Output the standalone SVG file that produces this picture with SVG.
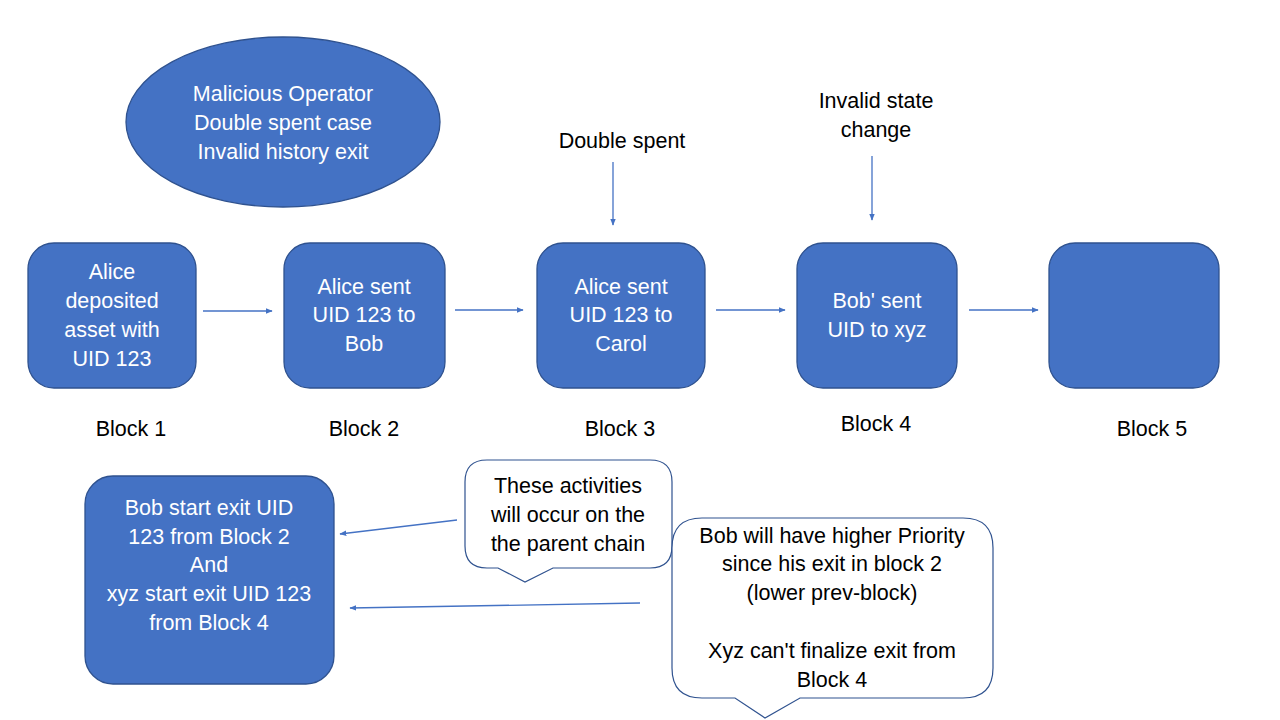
<svg xmlns="http://www.w3.org/2000/svg" width="1280" height="720" viewBox="0 0 1280 720">
<defs>
<style>
.node{fill:#4472C4;stroke:#2F528F;stroke-width:1.3}
.wt{fill:#FFFFFF;font-family:"Liberation Sans",Arial,sans-serif;font-size:21.5px;text-anchor:middle}
.bt{fill:#000000;font-family:"Liberation Sans",Arial,sans-serif;font-size:21.5px;text-anchor:middle}
.call{fill:#FFFFFF;stroke:#2F528F;stroke-width:1.2}
.conn{stroke:#4472C4;stroke-width:1.3;fill:none;marker-end:url(#ah)}
</style>
<marker id="ah" viewBox="0 0 10 10" refX="9" refY="5" markerWidth="7" markerHeight="7" markerUnits="userSpaceOnUse" orient="auto">
<path d="M0,1 L10,5 L0,9 z" fill="#4472C4"/>
</marker>
</defs>
<rect width="1280" height="720" fill="#FFFFFF"/>

<g id="title">
<ellipse class="node" cx="283" cy="122" rx="157" ry="85"/>
<text class="wt" x="283" y="101">Malicious Operator</text>
<text class="wt" x="283" y="130">Double spent case</text>
<text class="wt" x="283" y="159">Invalid history exit</text>
</g>

<g id="block1">
<rect class="node" x="28" y="243" width="168" height="145" rx="26"/>
<text class="wt" x="112" y="279">Alice</text>
<text class="wt" x="112" y="308">deposited</text>
<text class="wt" x="112" y="337">asset with</text>
<text class="wt" x="112" y="366">UID 123</text>
<text class="bt" x="131" y="436">Block 1</text>
</g>

<g id="block2">
<rect class="node" x="284" y="243" width="161" height="145" rx="26"/>
<text class="wt" x="364" y="294">Alice sent</text>
<text class="wt" x="364" y="322">UID 123 to</text>
<text class="wt" x="364" y="351">Bob</text>
<text class="bt" x="364" y="436">Block 2</text>
</g>

<g id="block3">
<rect class="node" x="537" y="243" width="168" height="145" rx="26"/>
<text class="wt" x="621" y="294">Alice sent</text>
<text class="wt" x="621" y="322">UID 123 to</text>
<text class="wt" x="621" y="351">Carol</text>
<text class="bt" x="620" y="436">Block 3</text>
</g>

<g id="block4">
<rect class="node" x="797" y="243" width="160" height="145" rx="26"/>
<text class="wt" x="877" y="308">Bob' sent</text>
<text class="wt" x="877" y="337">UID to xyz</text>
<text class="bt" x="876" y="431">Block 4</text>
</g>

<g id="block5">
<rect class="node" x="1049" y="243" width="170" height="145" rx="26"/>
<text class="bt" x="1152" y="436">Block 5</text>
</g>

<g id="label-double">
<text class="bt" x="622" y="148">Double spent</text>
</g>

<g id="label-invalid">
<text class="bt" x="876" y="108">Invalid state</text>
<text class="bt" x="876" y="137">change</text>
</g>

<g id="exits">
<rect class="node" x="85" y="476" width="249" height="208" rx="28"/>
<text class="wt" x="209" y="515">Bob start exit UID</text>
<text class="wt" x="209" y="544">123 from Block 2</text>
<text class="wt" x="209" y="572">And</text>
<text class="wt" x="209" y="601">xyz start exit UID 123</text>
<text class="wt" x="209" y="630">from Block 4</text>
</g>

<g id="connectors">
<line class="conn" x1="203" y1="311" x2="272" y2="311"/>
<line class="conn" x1="455" y1="310" x2="523" y2="310"/>
<line class="conn" x1="716" y1="310" x2="785" y2="310"/>
<line class="conn" x1="969" y1="310" x2="1038" y2="310"/>
<line class="conn" x1="613" y1="162" x2="613" y2="225"/>
<line class="conn" x1="872" y1="156" x2="872" y2="220"/>
<line class="conn" x1="457" y1="520" x2="340" y2="534"/>
<line class="conn" x1="640" y1="603" x2="350" y2="608"/>
</g>

<g id="callout1">
<path class="call" d="M487,460 H650 Q672,460 672,482 V546 Q672,568 650,568 H553 L525,582 L498,568 H487 Q465,568 465,546 V482 Q465,460 487,460 Z"/>
<text class="bt" x="568" y="493">These activities</text>
<text class="bt" x="568" y="522">will occur on the</text>
<text class="bt" x="568" y="551">the parent chain</text>
</g>

<g id="callout2">
<path class="call" d="M702,518 H963 Q993,518 993,548 V668 Q993,698 963,698 H800 L765,718 L735,698 H702 Q672,698 672,668 V548 Q672,518 702,518 Z"/>
<text class="bt" x="832" y="543">Bob will have higher Priority</text>
<text class="bt" x="832" y="571">since his exit in block 2</text>
<text class="bt" x="832" y="600">(lower prev-block)</text>
<text class="bt" x="832" y="658">Xyz can't finalize exit from</text>
<text class="bt" x="832" y="687">Block 4</text>
</g>
</svg>
